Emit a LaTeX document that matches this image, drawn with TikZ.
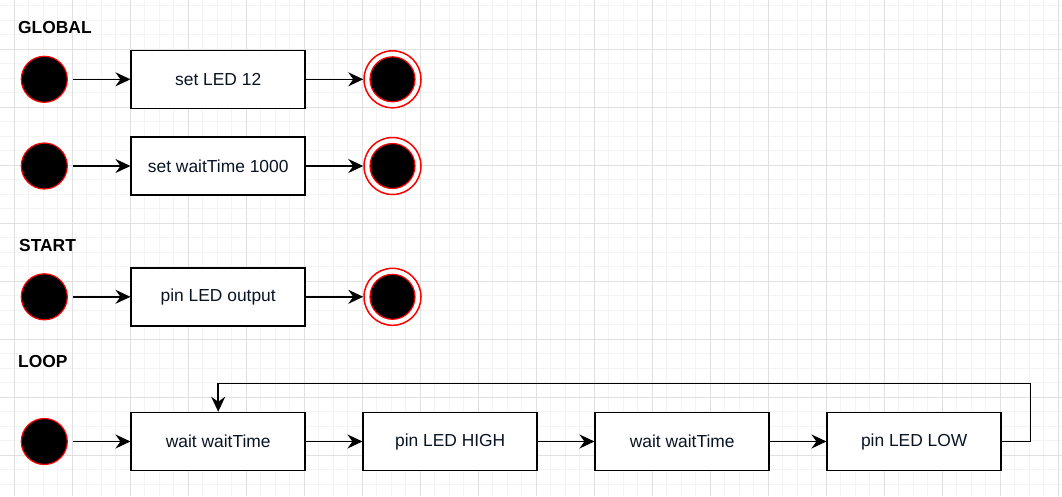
\documentclass[tikz,border=0pt]{standalone}
\usepackage{fontspec}
\setmainfont{Liberation Sans}
\usetikzlibrary{arrows.meta}
\definecolor{minorg}{HTML}{F4F4F4}
\definecolor{majorg}{HTML}{E0E0E0}
\definecolor{txt}{HTML}{0A1424}
\tikzset{
  minorgrid/.style={draw=minorg, line width=0.8pt},
  majorgrid/.style={draw=majorg, line width=1pt},
  stepbox/.style={rectangle, draw=black, fill=white, line width=1.5pt, minimum width=174pt, minimum height=58pt, inner sep=0pt, font=\fontsize{17.4}{20}\selectfont, text=txt},
  initstate/.style={circle, fill=black, draw=red, line width=1.2pt, minimum size=46pt, inner sep=0pt},
  finalouter/.style={circle, fill=white, draw=red, line width=1.5pt, minimum size=57pt, inner sep=0pt},
  finalinner/.style={circle, fill=black, draw=red, line width=1.2pt, minimum size=45pt, inner sep=0pt},
  heading/.style={anchor=west, inner sep=0pt, font=\bfseries\fontsize{17.4}{20}\selectfont},
  flow/.style={line width=1.5pt, -{Stealth[length=15pt, width=14pt, inset=5pt]}},
}
\begin{document}
\begin{tikzpicture}[x=1pt, y=-1pt]
\useasboundingbox (0,0) rectangle (1062,496);
\fill[white] (0,0) rectangle (1062,496);
% grid
\foreach \k in {0,...,73} { \draw[minorgrid] ({-0.2+14.5*\k},0) -- ++(0,496); }
\foreach \k in {0,...,35} { \draw[minorgrid] (0,{-8.7+14.5*\k}) -- ++(1062,0); }
\foreach \k in {0,...,18} { \draw[majorgrid] ({14.3+58*\k},0) -- ++(0,496); }
\foreach \k in {0,...,9} { \draw[majorgrid] (0,{-8.7+58*\k}) -- ++(1062,0); }

% headings
\node[heading] (hglobal) at (18,28) {GLOBAL};
\node[heading] (hstart) at (19,245.5) {START};
\node[heading] (hloop) at (18,361.5) {LOOP};

% row 1
\node[initstate] (i1) at (44.3,79.3) {};
\node[stepbox] (b1) at (218.2,79.3) {set LED 12};
\node[finalouter] (f1o) at (392.5,79.3) {};
\node[finalinner] (f1) at (392.5,79.3) {};
\draw[flow] (i1.east) ++(5,0) -- (b1.west);
\draw[flow] (b1.east) -- (f1o.west);

% row 2
\node[initstate] (i2) at (44.3,166) {};
\node[stepbox] (b2) at (218.2,166) {set waitTime 1000};
\node[finalouter] (f2o) at (392.5,166) {};
\node[finalinner] (f2) at (392.5,166) {};
\draw[flow] (i2.east) ++(5,0) -- (b2.west);
\draw[flow] (b2.east) -- (f2o.west);

% row 3
\node[initstate] (i3) at (44.3,296.8) {};
\node[stepbox] (b3) at (218.2,296.8) {pin LED output};
\node[finalouter] (f3o) at (392.5,296.8) {};
\node[finalinner] (f3) at (392.5,296.8) {};
\draw[flow] (i3.east) ++(5,0) -- (b3.west);
\draw[flow] (b3.east) -- (f3o.west);

% row 4
\node[initstate] (i4) at (44.3,441.5) {};
\node[stepbox] (l1) at (218.2,441.5) {wait waitTime};
\node[stepbox] (l2) at (450.2,441.5) {pin LED HIGH};
\node[stepbox] (l3) at (682.2,441.5) {wait waitTime};
\node[stepbox] (l4) at (914.2,441.5) {pin LED LOW};
\draw[flow] (i4.east) ++(5,0) -- (l1.west);
\draw[flow] (l1.east) -- (l2.west);
\draw[flow] (l2.east) -- (l3.west);
\draw[flow] (l3.east) -- (l4.west);
\coordinate (c1) at (1030.3,441.5);
\coordinate (c2) at (1030.3,383.3);
\coordinate (c3) at (218.2,383.3);
\draw[flow] (l4.east) -- (c1) -- (c2) -- (c3) -- (l1.north);
\end{tikzpicture}
\end{document}
